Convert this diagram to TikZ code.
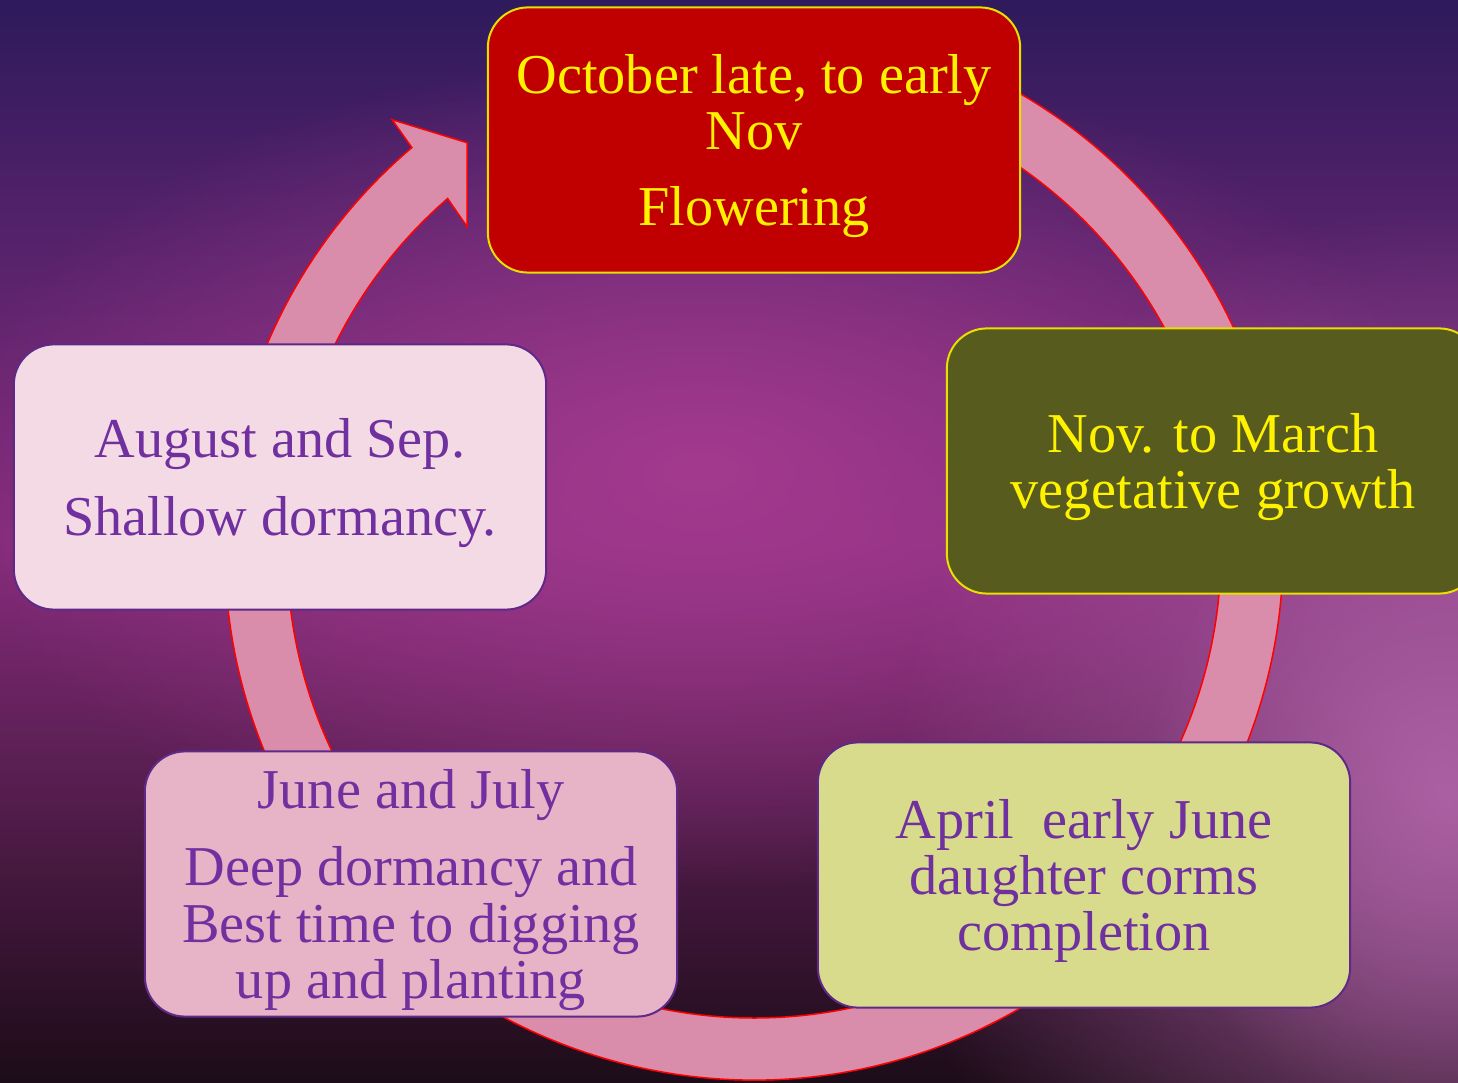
\documentclass[tikz,border=0pt]{standalone}
\usepackage{fontspec}
\setmainfont{Liberation Serif}
\usepackage{xcolor}
\usetikzlibrary{fadings}

\definecolor{bgtop}{HTML}{2E1A5C}
\definecolor{bgmid}{HTML}{862C7C}
\definecolor{bgbot}{HTML}{1C0C18}
\definecolor{glowmid}{HTML}{A33A8E}
\definecolor{glowside}{HTML}{B266AA}
\definecolor{ringfill}{HTML}{DA8CAB}
\definecolor{boxred}{HTML}{C00000}
\definecolor{boxolive}{HTML}{575B1D}
\definecolor{boxpale}{HTML}{F4DAE4}
\definecolor{boxpink}{HTML}{E6B3C7}
\definecolor{boxlime}{HTML}{D7DB8B}
\definecolor{txtpurple}{HTML}{7030A0}
\definecolor{edgeyellow}{HTML}{E8E000}

\tikzfading[name=glowfade, inner color=transparent!0, outer color=transparent!100]

\begin{document}
\begin{tikzpicture}[x=0.01cm, y=-0.01cm,
  stage/.style={rounded corners=0.4cm, minimum width=5.32cm, minimum height=2.65cm,
    inner sep=0pt, line width=0.02cm, align=center, text depth=0pt,
    font=\fontsize{16}{16}\selectfont},
  warm/.style={stage, draw=edgeyellow, text=yellow},
  cool/.style={stage, draw=txtpurple!85!black, text=txtpurple}]
\path[use as bounding box, clip] (0,0) rectangle (1458,1083);

\fill[top color=bgtop, bottom color=bgbot, middle color=bgmid] (0,0) rectangle (1458,1083);
\fill[glowmid, path fading=glowfade] (700,470) ellipse [x radius=760, y radius=420];
\fill[glowside, path fading=glowfade, opacity=0.8] (1450,800) ellipse [x radius=560, y radius=600];
\fill[glowside, path fading=glowfade, opacity=0.6] (1440,790) ellipse [x radius=300, y radius=340];

\def\rout{529}
\def\rin{467}

\begin{scope}[shift={(754,551)}]
\draw[fill=ringfill, draw=red, line width=0.015cm]
  (-75:\rout) arc[start angle=-75, end angle=229.7, radius=\rout]
  -- (230:563) -- (234.9:499) -- (228.5:433) -- (229:\rin)
  arc[start angle=229, end angle=-75, radius=\rin] -- cycle;
\end{scope}

\node[warm, fill=boxred] (flower) at (754,140) {October late, to early\\Nov\\[5.7pt]Flowering};
\node[warm, fill=boxolive] (growth) at (1213,461) {Nov. to March\\vegetative growth};
\node[cool, fill=boxlime] (corms) at (1084,875) {April\ \ early June\\daughter corms\\completion};
\node[cool, fill=boxpink] (deep) at (411,884) {June and July\\[6pt]Deep dormancy and\\Best time to digging\\up and planting};
\node[cool, fill=boxpale] (shallow) at (280,477) {August and Sep.\\[6.2pt]Shallow dormancy.};

\end{tikzpicture}
\end{document}
